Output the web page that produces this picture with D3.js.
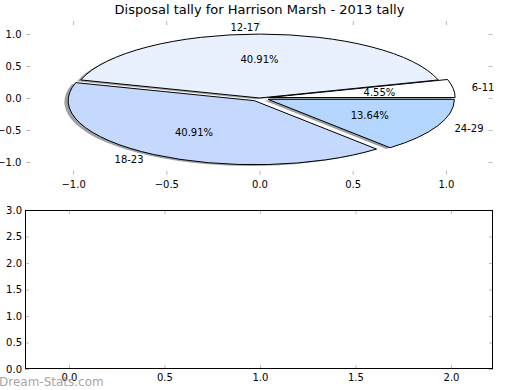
<!DOCTYPE html>
<html>
<head>
<meta charset="utf-8">
<script src="https://cdn.jsdelivr.net/npm/d3@7"></script>
<style>
  body { margin: 0; background: #fff; }
  text { font-family: "DejaVu Sans", sans-serif; }
</style>
</head>
<body>
<svg width="520" height="390"></svg>
<script>
const categories = ["6-11", "12-17", "18-23", "24-29"];
const counts = [1, 9, 9, 3];
const explode = [0.05, 0, 0.05, 0.05];
const colors = ["#ffffff", "#eaf1fe", "#c5d8fe", "#b4d6ff"];
const pieTicks = [-1.0, -0.5, 0.0, 0.5, 1.0];
const lowerXTicks = [0.0, 0.5, 1.0, 1.5, 2.0];
const lowerYTicks = [0.0, 0.5, 1.0, 1.5, 2.0, 2.5, 3.0];

function draw() {
  const svg = d3.select("svg");
  const fmt = d3.format(".1f");
  const tickGrey = "#b8b8b8";

  // top axes (pie)
  const x = d3.scaleLinear().domain([-1.25, 1.25]).range([26.5, 492.5]);
  const y = d3.scaleLinear().domain([-1.2, 1.2]).range([174.8, 21.2]);
  const sx = x(1) - x(0);
  const sy = y(0) - y(1);

  const pie = d3.pie().sort(null).startAngle(Math.PI / 2).endAngle(Math.PI / 2 - 2 * Math.PI);
  const arcs = pie(counts);
  const arc = d3.arc().innerRadius(0).outerRadius(1);
  const total = d3.sum(counts);

  const slices = arcs.map((a, i) => {
    const mid = (a.startAngle + a.endAngle) / 2;
    const dx = Math.sin(mid), dy = Math.cos(mid);
    return { a, i, dx, dy, cx: explode[i] * dx, cy: explode[i] * dy };
  });

  // shadows
  svg.append("g").selectAll("path")
    .data(slices)
    .join("path")
    .attr("transform", d => `translate(${x(d.cx - 0.02)},${y(d.cy - 0.02)}) scale(${sx},${sy})`)
    .attr("d", d => arc(d.a))
    .attr("fill", d => {
      const c = d3.rgb(colors[d.i]);
      return d3.rgb(c.r * 0.3, c.g * 0.3, c.b * 0.3);
    })
    .attr("fill-opacity", 0.5)
    .attr("stroke", "none");

  // wedges
  svg.append("g").selectAll("path")
    .data(slices)
    .join("path")
    .attr("transform", d => `translate(${x(d.cx)},${y(d.cy)}) scale(${sx},${sy})`)
    .attr("d", d => arc(d.a))
    .attr("fill", d => colors[d.i])
    .attr("stroke", "#000")
    .attr("stroke-width", 1)
    .attr("vector-effect", "non-scaling-stroke");

  // category labels
  svg.append("g").selectAll("text")
    .data(slices)
    .join("text")
    .attr("x", d => x(d.cx + 1.1 * d.dx))
    .attr("y", d => y(d.cy + 1.1 * d.dy))
    .attr("dy", "0.35em")
    .attr("text-anchor", d => d.dx > 0 ? "start" : "end")
    .attr("font-size", 10)
    .attr("fill", "#000")
    .text(d => categories[d.i]);

  // percent labels
  svg.append("g").selectAll("text")
    .data(slices)
    .join("text")
    .attr("x", d => x(d.cx + 0.6 * d.dx))
    .attr("y", d => y(d.cy + 0.6 * d.dy))
    .attr("dy", "0.35em")
    .attr("text-anchor", "middle")
    .attr("font-size", 10)
    .attr("fill", "#000")
    .text(d => (counts[d.i] / total * 100).toFixed(2) + "%");

  function styleAxis(g) {
    g.select(".domain").remove();
    g.selectAll(".tick line").attr("stroke", tickGrey);
    g.selectAll(".tick text").attr("font-size", 10).attr("fill", "#000")
      .attr("font-family", "DejaVu Sans, sans-serif");
  }

  svg.append("g").attr("transform", `translate(0,${y(-1.2)})`)
    .call(d3.axisBottom(x).tickValues(pieTicks).tickSize(-4).tickPadding(6).tickFormat(fmt))
    .call(styleAxis);
  svg.append("g").attr("transform", `translate(0,${y(1.2)})`)
    .call(d3.axisTop(x).tickValues(pieTicks).tickSize(-4).tickFormat(""))
    .call(styleAxis);
  svg.append("g").attr("transform", `translate(${x(-1.25)},0)`)
    .call(d3.axisLeft(y).tickValues(pieTicks).tickSize(-4).tickPadding(5).tickFormat(fmt))
    .call(styleAxis);
  svg.append("g").attr("transform", `translate(${x(1.25)},0)`)
    .call(d3.axisRight(y).tickValues(pieTicks).tickSize(-4).tickFormat(""))
    .call(styleAxis);

  // title
  svg.append("text")
    .attr("x", 259.5)
    .attr("y", 14)
    .attr("text-anchor", "middle")
    .attr("font-size", 13)
    .attr("fill", "#000")
    .text("Disposal tally for Harrison Marsh - 2013 tally");

  // bottom (empty) axes
  const x2 = d3.scaleLinear().domain([-0.23, 2.22]).range([25, 493]);
  const y2 = d3.scaleLinear().domain([0, 3]).range([369, 210]);

  svg.append("g").attr("transform", "translate(0,369)")
    .call(d3.axisBottom(x2).tickValues(lowerXTicks).tickSize(-4).tickPadding(5).tickFormat(fmt))
    .call(styleAxis);
  svg.append("g").attr("transform", "translate(0,210)")
    .call(d3.axisTop(x2).tickValues(lowerXTicks).tickSize(-4).tickFormat(""))
    .call(styleAxis);
  svg.append("g").attr("transform", "translate(25,0)")
    .call(d3.axisLeft(y2).tickValues(lowerYTicks).tickSize(-4).tickPadding(3).tickFormat(fmt))
    .call(styleAxis);
  svg.append("g").attr("transform", "translate(493,0)")
    .call(d3.axisRight(y2).tickValues(lowerYTicks).tickSize(-4).tickFormat(""))
    .call(styleAxis);

  svg.append("rect")
    .attr("x", 25.5).attr("y", 210.5)
    .attr("width", 467).attr("height", 158)
    .attr("fill", "none")
    .attr("stroke", "#000")
    .attr("stroke-width", 1);

  // watermark
  svg.append("text")
    .attr("x", -1)
    .attr("y", 386)
    .attr("font-size", 12)
    .attr("fill", "#999")
    .attr("fill-opacity", 0.9)
    .text("Dream-Stats.com");
}

window.onload = draw;
</script>
</body>
</html>
